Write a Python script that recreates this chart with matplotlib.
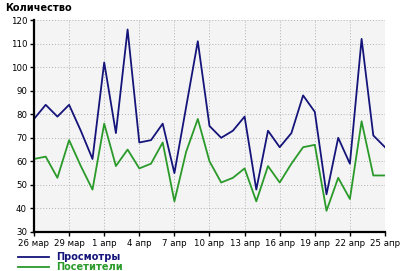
import matplotlib
matplotlib.use('Agg')
import matplotlib.pyplot as plt

# данные по дням с 26 марта по 25 апреля
days = list(range(31))
views = [78, 84, 79, 84, 73, 61, 102, 72, 116, 68, 69, 76, 55, 83, 111, 75,
         70, 73, 79, 48, 73, 66, 72, 88, 81, 46, 70, 59, 112, 71, 66]
visitors = [61, 62, 53, 69, 58, 48, 76, 58, 65, 57, 59, 68, 43, 64, 78, 60,
            51, 53, 57, 43, 58, 51, 59, 66, 67, 39, 53, 44, 77, 54, 54]
tick_days = [0, 3, 6, 9, 12, 15, 18, 21, 24, 27, 30]
tick_labels = ['26 мар', '29 мар', '1 апр', '4 апр', '7 апр', '10 апр',
               '13 апр', '16 апр', '19 апр', '22 апр', '25 апр']
y_ticks = [30, 40, 50, 60, 70, 80, 90, 100, 110, 120]

fig = plt.figure(figsize=(4, 2.71), dpi=100)
ax = fig.add_axes([0.085, 0.144, 0.8775, 0.782])
ax.set_facecolor('#f4f4f4')

l1, = ax.plot(days, views, color='#14147a', lw=1.3, label='Просмотры')
l2, = ax.plot(days, visitors, color='#2a9a2a', lw=1.3, label='Посетители')

ax.set_xlim(0, 30)
ax.set_ylim(30, 120)
ax.set_xticks(tick_days)
ax.set_xticklabels(tick_labels)
ax.set_yticks(y_ticks)
ax.tick_params(labelsize=6.2, length=3, width=1, pad=2, colors='black')
ax.grid(True, color='#b0b0b0', linestyle=(0, (1, 2)), lw=0.7)

for s in ['top', 'right']:
    ax.spines[s].set_visible(False)
for s in ['left', 'bottom']:
    ax.spines[s].set_linewidth(1.6)

fig.text(0.012, 0.97, 'Количество', fontsize=7, fontweight='bold', va='center')

# легенда внизу, как в оригинале
leg = fig.legend(handles=[l1, l2], loc='upper left', bbox_to_anchor=(0.045, 0.07),
                 frameon=False, fontsize=7, handlelength=3.2, labelspacing=0.0,
                 borderaxespad=0, borderpad=0, handletextpad=0.7)
for t, c in zip(leg.get_texts(), ['#14147a', '#2a9a2a']):
    t.set_color(c)
    t.set_fontweight('bold')

fig.savefig('out.png', dpi=100)
